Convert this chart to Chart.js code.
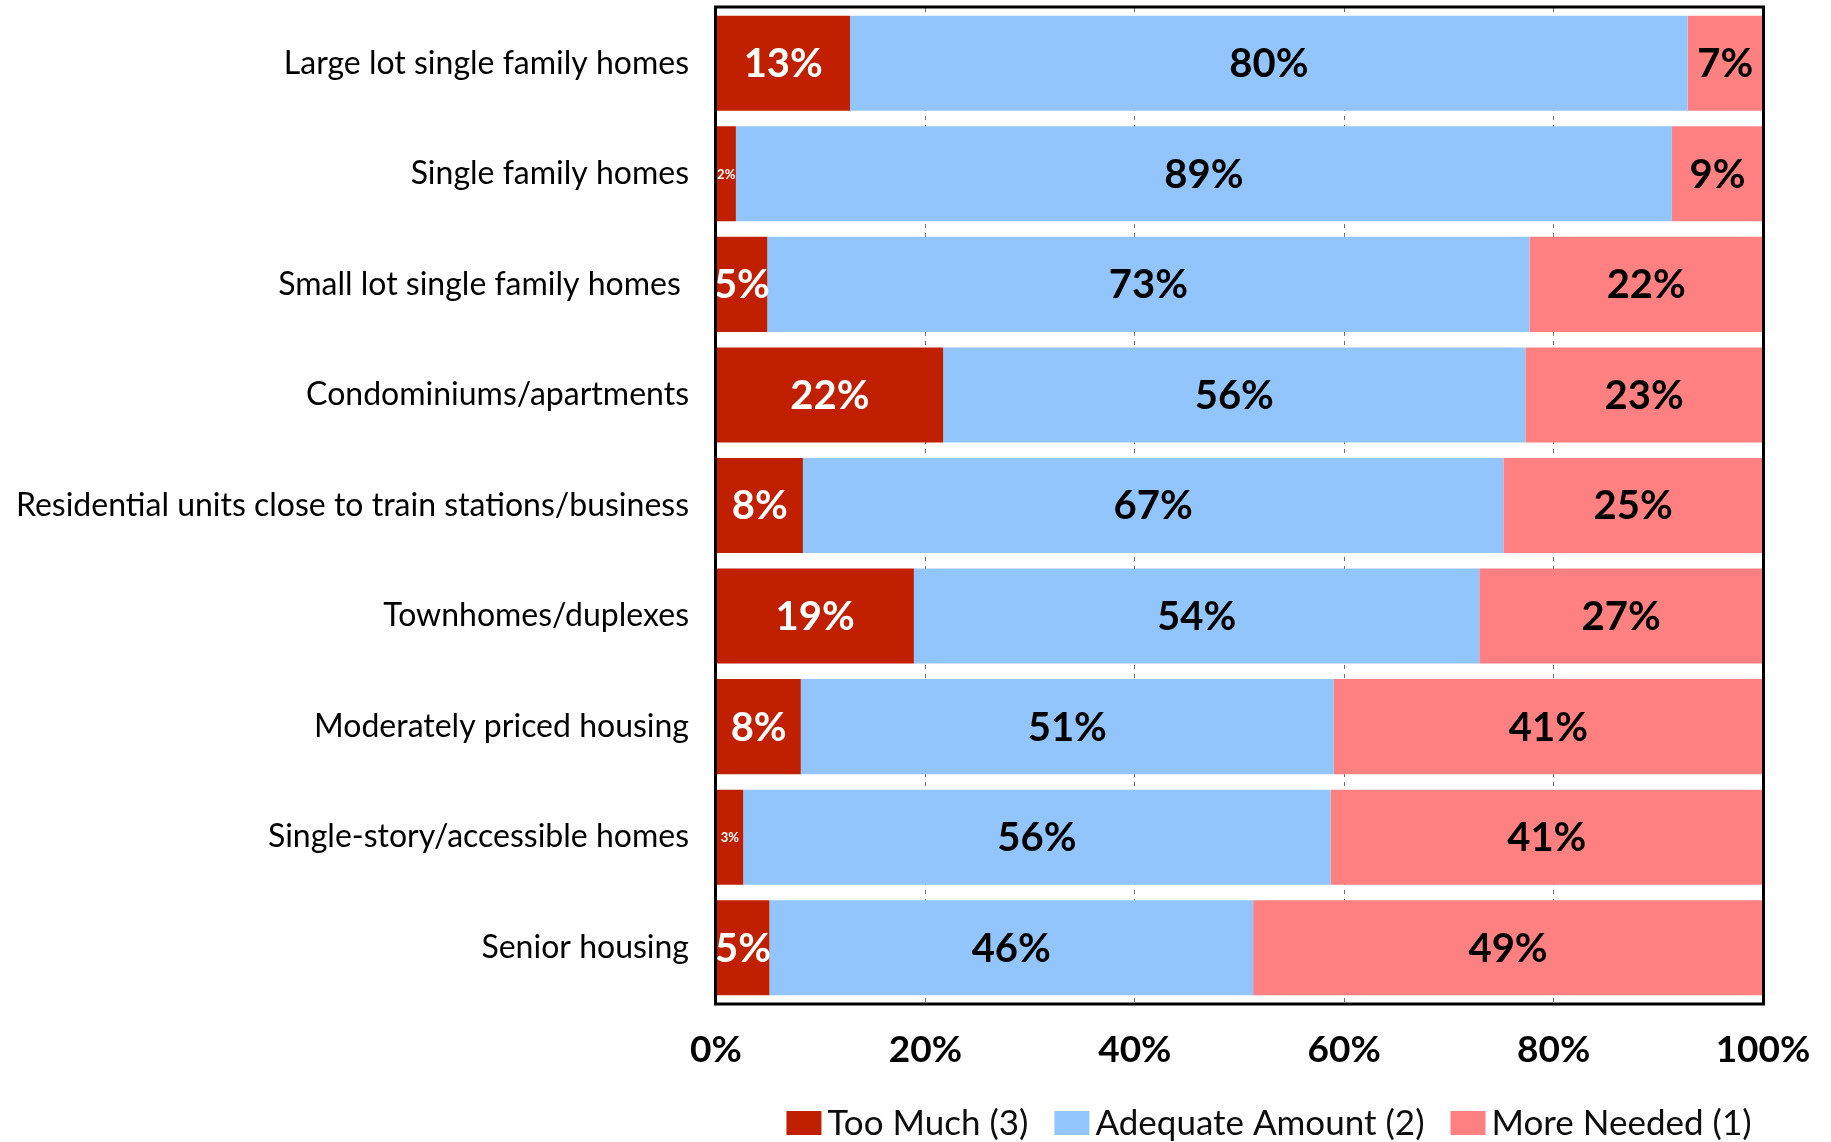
<!DOCTYPE html>
<html>
<head>
<meta charset="utf-8">
<script src="https://cdn.jsdelivr.net/npm/chart.js@4.4.1/dist/chart.umd.min.js"></script>
<style>
html,body{margin:0;padding:0;background:#fff;}
canvas{display:block;}
</style>
</head>
<body>
<canvas id="c" width="1831" height="1142"></canvas>
<script>
// ---- data ----
const categories = [
  'Large lot single family homes',
  'Single family homes',
  'Small lot single family homes ',
  'Condominiums/apartments',
  'Residential units close to train stations/business',
  'Townhomes/duplexes',
  'Moderately priced housing',
  'Single-story/accessible homes',
  'Senior housing'
];
const tooMuch    = [12.8, 1.9, 4.9, 21.7, 8.3, 18.9, 8.1, 2.6, 5.1];
const adequate   = [80.0, 89.4, 72.8, 55.6, 66.9, 54.0, 50.9, 56.1, 46.2];
const moreNeeded = [7.2, 8.7, 22.3, 22.7, 24.8, 27.1, 41.0, 41.3, 48.7];
const seriesNames = ['Too Much (3)', 'Adequate Amount (2)', 'More Needed (1)'];
const seriesColors = ['#C02000', '#92C5FC', '#FF8080'];
const labelColors = ['#FFFFFF', '#000000', '#000000'];
const xTickValues = [0, 20, 40, 60, 80, 100];

const FONT = 'Lato';

const framePlugin = {
  id: 'frameAndLabels',
  afterDatasetsDraw(chart) {
    const ctx = chart.ctx;
    const a = chart.chartArea;
    // data labels
    chart.data.datasets.forEach((ds, di) => {
      const meta = chart.getDatasetMeta(di);
      meta.data.forEach((bar, i) => {
        const v = ds.data[i];
        const cx = (bar.x + bar.base) / 2;
        const small = v < 4;
        ctx.save();
        ctx.font = 'bold ' + (small ? 13 : 40) + 'px ' + FONT;
        ctx.fillStyle = labelColors[di];
        ctx.textAlign = 'center';
        ctx.textBaseline = 'middle';
        ctx.fillText(Math.round(v) + '%', cx, bar.y + 1);
        ctx.restore();
      });
    });
    // frame
    ctx.save();
    ctx.strokeStyle = '#000';
    ctx.lineWidth = 3;
    ctx.strokeRect(a.left - 0.5, a.top - 1, a.right - a.left + 1, a.bottom - a.top + 2);
    ctx.restore();
  },
  afterDraw(chart) {
    // legend
    const ctx = chart.ctx;
    ctx.save();
    ctx.font = '35px ' + FONT;
    const boxW = 35, boxH = 24, gapText = 6, gapItem = 26;
    const widths = seriesNames.map(n => ctx.measureText(n).width);
    let total = 0;
    widths.forEach((w, i) => { total += boxW + gapText + w + (i < widths.length - 1 ? gapItem : 0); });
    let x = 1269 - total / 2;
    const cy = 1123;
    seriesNames.forEach((n, i) => {
      ctx.fillStyle = seriesColors[i];
      ctx.fillRect(x, cy - boxH / 2, boxW, boxH);
      ctx.fillStyle = '#0d0d0d';
      ctx.textAlign = 'left';
      ctx.textBaseline = 'middle';
      ctx.fillText(n, x + boxW + gapText, cy + 1);
      x += boxW + gapText + widths[i] + gapItem;
    });
    ctx.restore();
  }
};

function build() {
  new Chart(document.getElementById('c'), {
    type: 'bar',
    data: {
      labels: categories,
      datasets: [
        { label: seriesNames[0], data: tooMuch, backgroundColor: seriesColors[0] },
        { label: seriesNames[1], data: adequate, backgroundColor: seriesColors[1] },
        { label: seriesNames[2], data: moreNeeded, backgroundColor: seriesColors[2] }
      ]
    },
    options: {
      indexAxis: 'y',
      responsive: false,
      animation: false,
      devicePixelRatio: 1,
      layout: { padding: { top: 8, right: 68, bottom: 0, left: 0 } },
      datasets: { bar: { barPercentage: 0.86, categoryPercentage: 1.0, borderWidth: 0 } },
      plugins: { legend: { display: false }, tooltip: { enabled: false } },
      scales: {
        x: {
          stacked: true,
          min: 0, max: 100,
          afterBuildTicks: s => { s.ticks = xTickValues.map(v => ({ value: v })); },
          afterFit: s => { s.height = 139; s.paddingLeft = 0; s.paddingRight = 0; },
          ticks: {
            callback: v => v + '%',
            font: { family: FONT, weight: 'bold', size: 37 },
            color: '#000',
            padding: 25,
            maxRotation: 0
          },
          grid: { color: '#6f6f6f', lineWidth: 1, drawTicks: false },
          border: { display: false, dash: [4, 5] }
        },
        y: {
          stacked: true,
          afterFit: s => { s.width = 716; s.paddingTop = 0; s.paddingBottom = 0; },
          ticks: {
            font: { family: FONT, size: 32 },
            color: '#000',
            padding: 27
          },
          grid: { display: false, drawTicks: false },
          border: { display: false }
        }
      }
    },
    plugins: [framePlugin]
  });
}

const loads = [
  document.fonts.load('32px ' + FONT),
  document.fonts.load('bold 37px ' + FONT)
];
Promise.all(loads).then(build, build);
</script>
</body>
</html>
